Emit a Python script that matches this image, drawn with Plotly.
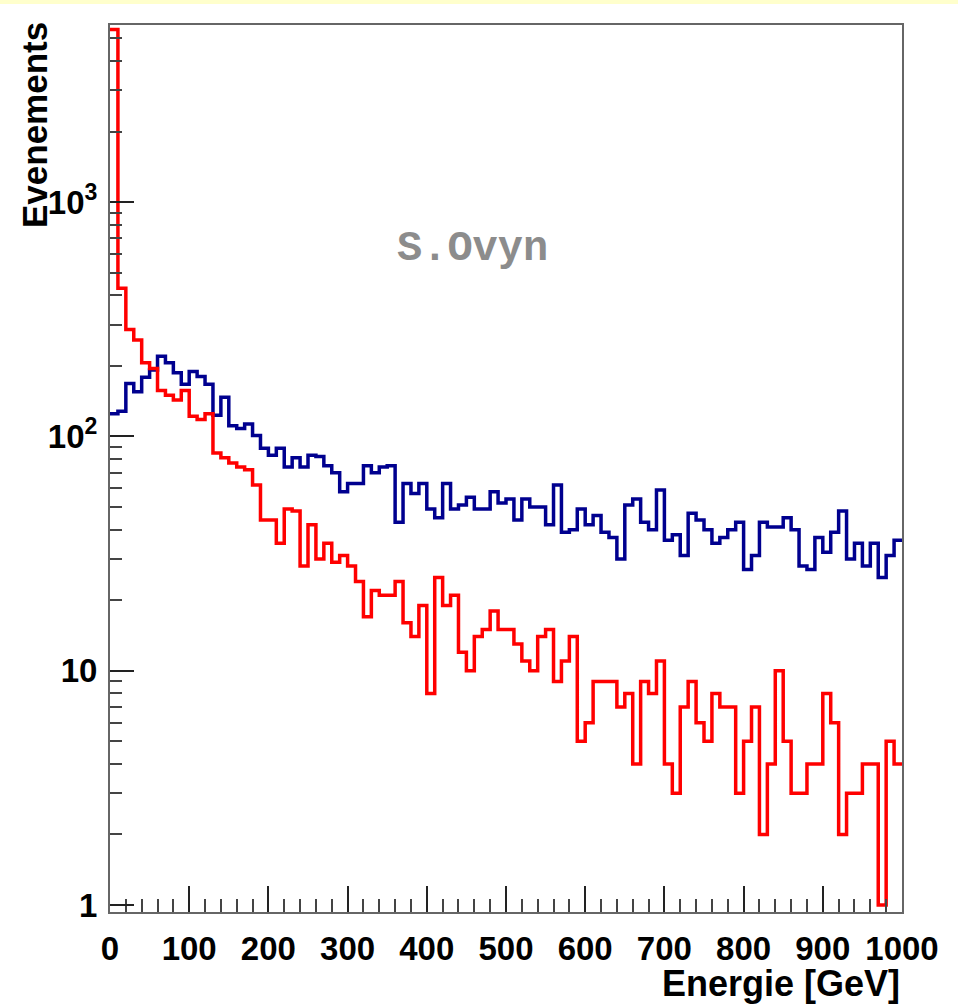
import numpy as np
import plotly.graph_objects as go

# Energy histograms, 100 bins of 10 GeV from 0 to 1000 GeV
bin_edges = np.arange(0, 1001, 10)

blue_counts = [
    125, 128, 168, 155, 179, 192, 220, 206, 187, 167,
    189, 180, 167, 123, 147, 111, 108, 113, 101, 89,
    83, 89, 74, 81, 74, 83, 82, 75, 70, 58,
    63, 63, 75, 70, 74, 75, 43, 63, 57, 63,
    49, 45, 63, 49, 51, 55, 49, 49, 58, 52,
    54, 44, 54, 50, 50, 42, 62, 39, 40, 49,
    42, 46, 39, 37, 30, 51, 54, 43, 40, 59,
    36, 38, 31, 47, 44, 40, 35, 37, 40, 43,
    27, 31, 43, 41, 41, 45, 40, 28, 27, 37,
    32, 39, 48, 30, 35, 28, 35, 25, 31, 36,
]

red_counts = [
    5450, 429, 286, 258, 206, 195, 157, 150, 143, 157,
    122, 118, 125, 85, 81, 77, 74, 72, 62, 44,
    44, 35, 49, 48, 28, 42, 30, 35, 29, 31,
    28, 24, 17, 22, 21, 21, 24, 16, 14, 19,
    8, 25, 19, 21, 12, 10, 14, 15, 18, 15,
    15, 13, 11, 10, 14, 15, 9, 11, 14, 5,
    6, 9, 9, 9, 7, 8, 4, 9, 8, 11,
    4, 3, 7, 9, 6, 5, 8, 7, 7, 3,
    5, 7, 2, 4, 10, 5, 3, 3, 4, 4,
    8, 6, 2, 3, 3, 4, 4, 1, 5, 4,
]

x_tick_values = [0, 100, 200, 300, 400, 500, 600, 700, 800, 900, 1000]
x_tick_labels = [str(v) for v in x_tick_values]
y_tick_values = [1, 10, 100, 1000]
y_tick_labels = ["1", "10", "10<sup>2</sup>", "10<sup>3</sup>"]
y_minor_values = [m * 10 ** d for d in range(4) for m in range(2, 10) if m * 10 ** d < 6000]

BLUE = "#00008f"
RED = "#ff0000"
FONT = "Liberation Sans"


def step_trace(counts, color):
    # outline of a histogram: horizontal run across every bin
    y = list(counts) + [counts[-1]]
    return go.Scatter(
        x=bin_edges, y=y, mode="lines",
        line=dict(color=color, width=3.5, shape="hv"),
        showlegend=False, hoverinfo="skip",
    )


fig = go.Figure()
fig.add_trace(step_trace(blue_counts, BLUE))
fig.add_trace(step_trace(red_counts, RED))

W, H = 958, 1004
ml, mr, mt, mb = 110, 56, 25, 92
pw, ph = W - ml - mr, H - mt - mb

fig.update_layout(
    width=W, height=H,
    margin=dict(l=ml, r=mr, t=mt, b=mb),
    paper_bgcolor="white", plot_bgcolor="white",
    font=dict(family=FONT, color="black"),
    xaxis=dict(
        range=[0, 1000], showgrid=False, zeroline=False,
        showline=True, mirror=True, linecolor="#666666", linewidth=2,
        tickmode="array", tickvals=x_tick_values, ticktext=x_tick_labels,
        ticks="inside", ticklen=26, tickwidth=1.5, tickcolor="#222222",
        tickfont=dict(family=FONT, size=33, weight="bold"),
        ticklabelstandoff=6,
        minor=dict(dtick=20, tick0=0, ticks="inside", ticklen=13,
                   tickwidth=1.5, tickcolor="#444444", showgrid=False),
    ),
    yaxis=dict(
        type="log", range=[-0.0299, 3.7558], showgrid=False, zeroline=False,
        showline=True, mirror=True, linecolor="#666666", linewidth=2,
        tickmode="array", tickvals=y_tick_values, ticktext=y_tick_labels,
        ticks="inside", ticklen=24, tickwidth=1.5, tickcolor="#222222",
        tickfont=dict(family=FONT, size=33, weight="bold"),
        ticklabelstandoff=4,
        minor=dict(tickmode="array", tickvals=y_minor_values, ticks="inside",
                   ticklen=12, tickwidth=1.5, tickcolor="#444444", showgrid=False),
    ),
    shapes=[
        dict(type="rect", xref="paper", yref="paper",
             x0=-ml / pw, x1=(W - ml) / pw,
             y0=(ph + mt - 4) / ph, y1=(ph + mt) / ph,
             fillcolor="#ffffcc", line=dict(width=0), layer="below"),
    ],
    annotations=[
        dict(text="Evenements", xref="paper", yref="paper", x=0, y=1,
             xshift=-76, yshift=5, xanchor="center", yanchor="top",
             textangle=-90, showarrow=False,
             font=dict(family=FONT, size=35, weight="bold")),
        dict(text="Energie [GeV]", xref="paper", yref="paper", x=1, y=0,
             xanchor="right", yanchor="middle", yshift=-71, showarrow=False,
             font=dict(family=FONT, size=36, weight="bold")),
        dict(text="S.Ovyn", xref="paper", yref="paper",
             x=(472 - ml) / pw, y=(H - mb - 249) / ph,
             xanchor="center", yanchor="middle", showarrow=False,
             font=dict(family="Liberation Mono", size=42, weight="bold",
                       color="#8c8c8c")),
    ],
)

fig.write_html("out.html")
